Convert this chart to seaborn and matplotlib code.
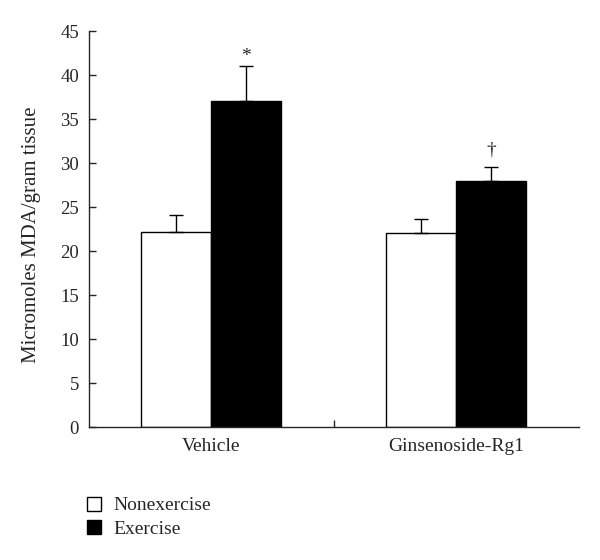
import pandas as pd
import matplotlib
matplotlib.use("Agg")
import matplotlib.pyplot as plt
import seaborn as sns
from matplotlib.patches import Patch

# --- data ---
groups = ["Vehicle", "Ginsenoside-Rg1"]
conditions = ["Nonexercise", "Exercise"]
means_nonexercise = [22.2, 22.0]
means_exercise = [37.1, 28.0]
err_nonexercise = [1.9, 1.6]
err_exercise = [3.9, 1.6]
marks = ["", "", "*", "\u2020"]  # order: nonex groups, then ex groups
y_ticks = [0, 5, 10, 15, 20, 25, 30, 35, 40, 45]

df = pd.DataFrame({
    "group": groups * 2,
    "condition": [conditions[0]] * 2 + [conditions[1]] * 2,
    "mda": means_nonexercise + means_exercise,
    "err": err_nonexercise + err_exercise,
})

sns.set_style("ticks")
plt.rcParams["font.family"] = ["Liberation Serif", "DejaVu Serif"]

fig = plt.figure(figsize=(6, 5.6), dpi=100)
ax = fig.add_axes([0.148, 0.2375, 0.817, 0.707])

sns.barplot(
    data=df, x="group", y="mda", hue="condition", order=groups,
    hue_order=conditions, palette={"Nonexercise": "white", "Exercise": "black"},
    edgecolor="black", linewidth=1.0, width=0.571, errorbar=None,
    legend=False, ax=ax,
)

# upper-only error bars, placed on the bar patches seaborn drew
mark_offsets = [0, 0, 1, 6]
for bar, (_, row), mark, off in zip(ax.patches, df.iterrows(), marks, mark_offsets):
    xc = bar.get_x() + bar.get_width() / 2
    top = bar.get_height()
    ax.errorbar(xc, top, yerr=[[0], [row["err"]]], fmt="none",
                ecolor="black", elinewidth=1.0, capsize=5, capthick=1.0)
    if mark:
        ax.annotate(mark, (xc, top + row["err"]), xytext=(0, off),
                    textcoords="offset points", ha="center", va="bottom",
                    fontsize=14)

ax.set_ylim(0, 45)
ax.set_xlim(-0.5, 1.5)
ax.set_yticks(y_ticks)
ax.set_xticks([0, 0.5, 1])
ax.set_xticklabels([groups[0], "", groups[1]])
ax.tick_params(axis="y", direction="in", length=5, width=1, labelsize=13.5, pad=7)
ax.tick_params(axis="x", direction="in", length=5, width=1, labelsize=14, pad=8)
ax.xaxis.get_major_ticks()[0].tick1line.set_visible(False)
ax.xaxis.get_major_ticks()[2].tick1line.set_visible(False)
ax.set_xlabel("")
ax.set_ylabel("Micromoles MDA/gram tissue", fontsize=15)
ax.yaxis.set_label_coords(-0.097, 0.485)
sns.despine(ax=ax)
for s in ["left", "bottom"]:
    ax.spines[s].set_linewidth(1.0)

handles = [Patch(facecolor="white", edgecolor="black", label=conditions[0]),
           Patch(facecolor="black", edgecolor="black", label=conditions[1])]
fig.legend(handles=handles, loc="upper left", bbox_to_anchor=(0.145, 0.113),
           frameon=False, fontsize=14, handlelength=0.72, handleheight=0.72,
           handletextpad=0.65, labelspacing=0.3, borderaxespad=0, borderpad=0)

fig.savefig("out.png", dpi=100)
